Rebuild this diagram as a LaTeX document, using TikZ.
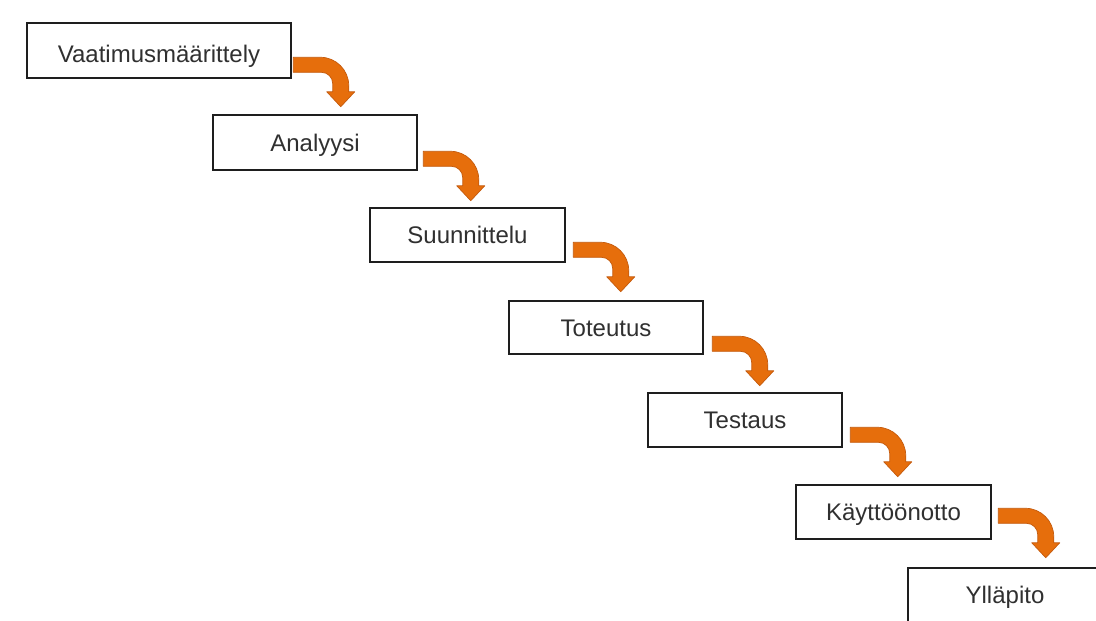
\documentclass[tikz,border=0pt]{standalone}
\usepackage{fontspec}
\setmainfont{Liberation Sans}
\definecolor{boxline}{HTML}{1E1E1E}
\definecolor{boxtext}{HTML}{303030}
\definecolor{flowfill}{HTML}{E66E0C}
\definecolor{flowedge}{HTML}{C45A0C}
\tikzset{
  phase/.style={draw=boxline, line width=2.5pt, fill=white, inner sep=0pt,
    text=boxtext, font=\fontsize{24}{28}\selectfont,
    text height=17.2pt, text depth=0pt},
  % bent orange arrow: horizontal band, rounded turn, downward head
  bentarrow/.pic={
    \filldraw[fill=flowfill, draw=flowedge, line width=0.7pt, line join=round]
      (0,-0.5) -- (27,-0.5) .. controls (42.8,-0.5) and (55.5,12.2) .. (55.5,28)
      -- (55.5,34) -- (61.5,34) -- (47.5,49) -- (33.5,34) -- (39.5,34) -- (39.5,26)
      .. controls (39.5,19.6) and (34.4,14.5) .. (28,14.5) -- (0,14.5) -- cycle;
  }
}
\begin{document}
\begin{tikzpicture}[x=1pt,y=-1pt]
  \useasboundingbox (0,0) rectangle (1096,621);
  \clip (0,0) rectangle (1096,621);
  \fill[white] (0,0) rectangle (1096,621);

  % the seven phases
  \node[phase, text height=23.2pt, minimum width=264, minimum height=55] (b1) at (159,50.5) {Vaatimusmäärittely};
  \node[phase, minimum width=204, minimum height=55] (b2) at (315,142.5) {Analyysi};
  \node[phase, minimum width=195, minimum height=54] (b3) at (467.5,235) {Suunnittelu};
  \node[phase, minimum width=194, minimum height=53] (b4) at (606,327.5) {Toteutus};
  \node[phase, minimum width=194, minimum height=54] (b5) at (745,420) {Testaus};
  \node[phase, minimum width=195, minimum height=54] (b6) at (893.5,512) {Käyttöönotto};
  \node[phase, minimum width=194, minimum height=54] (b7) at (1005,595) {Ylläpito};

  % arrow start points beside each box
  \coordinate (a1) at ([shift={(1,36)}]b1.north east);
  \coordinate (a2) at ([shift={(5,38)}]b2.north east);
  \coordinate (a3) at ([shift={(7,36)}]b3.north east);
  \coordinate (a4) at ([shift={(8,37)}]b4.north east);
  \coordinate (a5) at ([shift={(7,36)}]b5.north east);
  \coordinate (a6) at ([shift={(6,25)}]b6.north east);

  \foreach \a in {a1,a2,a3,a4,a5,a6}
    \pic at (\a) {bentarrow};
\end{tikzpicture}
\end{document}
